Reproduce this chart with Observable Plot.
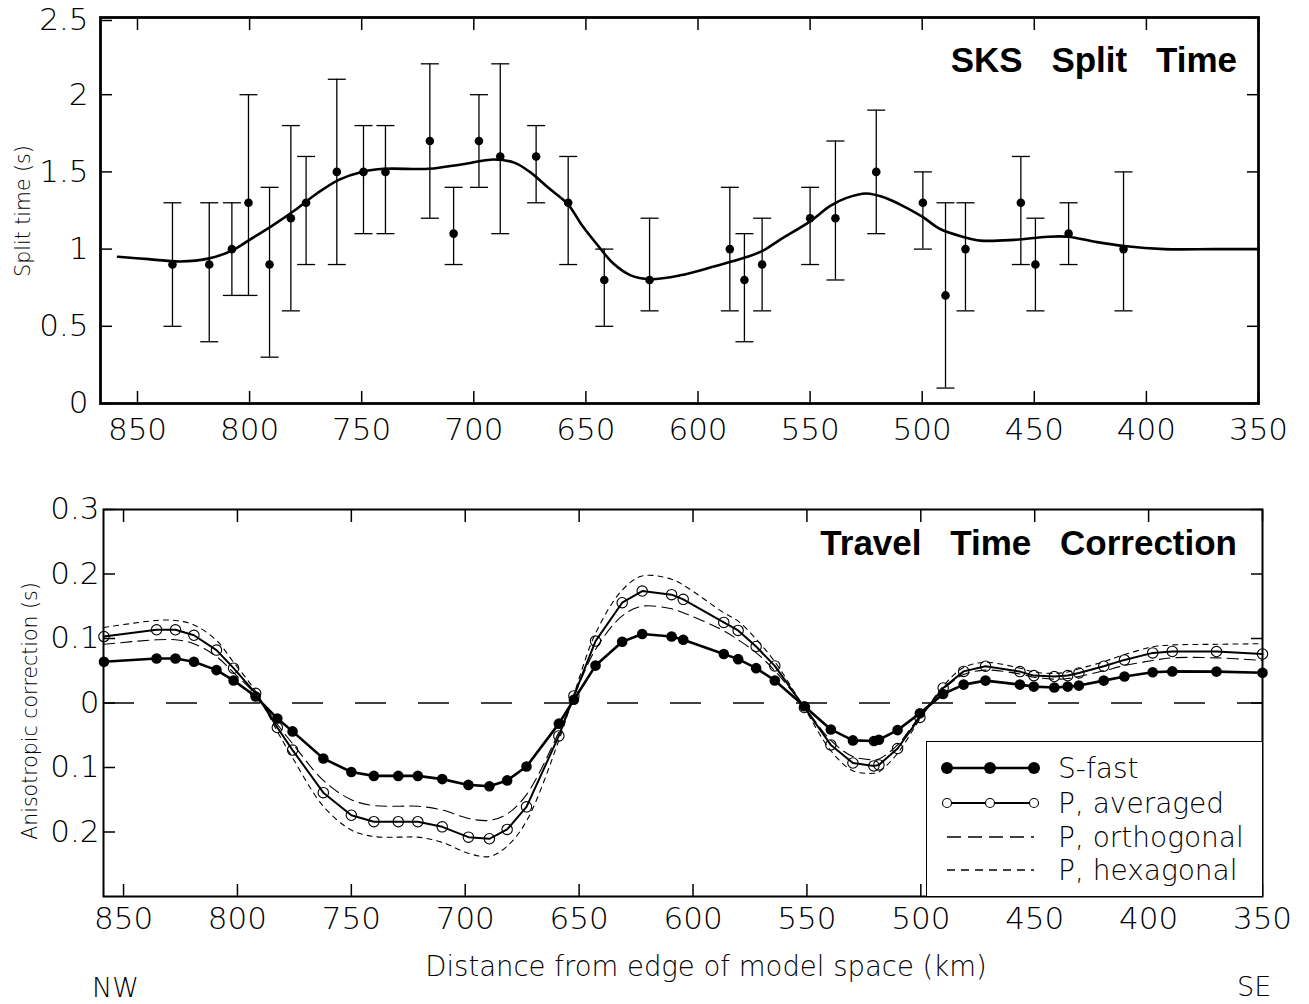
<!DOCTYPE html>
<html>
<head>
<meta charset="utf-8">
<script src="https://cdn.jsdelivr.net/npm/d3@7"></script>
<script src="https://cdn.jsdelivr.net/npm/@observablehq/plot@0.6"></script>
<style>
  html, body { margin: 0; padding: 0; background: #fff; }
  #wrap { position: relative; width: 1309px; height: 1004px; overflow: hidden; font-family: "DejaVu Sans", sans-serif; font-weight: 200; color: #000; }
  .abs { position: absolute; white-space: nowrap; line-height: 1; }
  .title { font-family: "Liberation Sans", Arial, sans-serif; font-weight: 700; font-size: 35px; word-spacing: 19px; }
  .xlab { font-size: 27.5px; }
  .ylab { font-size: 20.5px; transform: translate(-50%, -50%) rotate(-90deg); }
  .dir { font-size: 27px; }
  #legend { position: absolute; background: #fff; border: 1.5px solid #000; box-sizing: border-box; }
</style>
</head>
<body>
<div id="wrap"></div>
<script>
// ---------- SKS split time (top panel) ----------
const sksKm   = [834.4, 818, 807.9, 800.5, 791.1, 781.6, 774.8, 761.1, 749.2, 739.4, 719.6, 709, 697.7, 688.2, 672.2, 657.9, 641.8, 621.6, 585.8, 579.3, 571.4, 550, 538.7, 520.5, 499.7, 489.6, 480.7, 456, 449.5, 434.7, 410.2];
const sksTime = [0.9, 0.9, 1.0, 1.3, 0.9, 1.2, 1.3, 1.5, 1.5, 1.5, 1.7, 1.1, 1.7, 1.6, 1.6, 1.3, 0.8, 0.8, 1.0, 0.8, 0.9, 1.2, 1.2, 1.5, 1.3, 0.7, 1.0, 1.3, 0.9, 1.1, 1.0];
const sksLow  = [0.5, 0.4, 0.7, 0.7, 0.3, 0.6, 0.9, 0.9, 1.1, 1.1, 1.2, 0.9, 1.4, 1.1, 1.3, 0.9, 0.5, 0.6, 0.6, 0.4, 0.6, 0.9, 0.8, 1.1, 1.0, 0.1, 0.6, 0.9, 0.6, 0.9, 0.6];
const sksHigh = [1.3, 1.3, 1.3, 2.0, 1.4, 1.8, 1.6, 2.1, 1.8, 1.8, 2.2, 1.4, 2.0, 2.2, 1.8, 1.6, 1.0, 1.2, 1.4, 1.1, 1.2, 1.4, 1.7, 1.9, 1.5, 1.3, 1.3, 1.6, 1.2, 1.3, 1.5];

// smoothed split-time curve
const smoothKm  = [858.7, 845, 831, 818, 807.9, 800, 790, 780, 770, 760, 750, 740, 720, 705, 691, 682, 675, 667, 658, 652, 645, 638, 630, 621.6, 608, 593, 578, 571, 563.5, 550, 541, 534, 525, 516, 510, 500, 492, 482, 474, 459, 444, 435, 422, 410, 392, 370, 350];
const smoothVal = [0.95, 0.935, 0.92, 0.94, 0.99, 1.06, 1.15, 1.25, 1.36, 1.45, 1.50, 1.52, 1.52, 1.55, 1.58, 1.56, 1.50, 1.40, 1.29, 1.16, 1.03, 0.91, 0.83, 0.805, 0.83, 0.887, 0.95, 0.99, 1.06, 1.18, 1.28, 1.33, 1.36, 1.33, 1.29, 1.21, 1.13, 1.08, 1.055, 1.06, 1.08, 1.08, 1.045, 1.02, 1.0, 1.0, 1.0];

// ---------- Travel time correction (bottom panel) ----------
const corrKm = [858.6, 835.5, 827.2, 819.1, 809.2, 801.7, 792, 782.5, 775.8, 762.3, 750, 740.1, 729.4, 720.8, 710.1, 698.6, 689.4, 681.6, 673.1, 658.9, 652.3, 642.8, 631.1, 622.3, 609.4, 604.3, 586.5, 580.2, 572.3, 564.1, 551.1, 539.5, 529.8, 520.6, 518.4, 510.2, 500.4, 490.2, 481.2, 471.6, 456.5, 450.4, 441.4, 435.5, 430.6, 419.7, 410.6, 398.2, 389.6, 370.2, 350];
const sFast = [0.064, 0.069, 0.069, 0.064, 0.051, 0.035, 0.010, -0.024, -0.044, -0.086, -0.107, -0.113, -0.113, -0.113, -0.118, -0.127, -0.129, -0.120, -0.0985, -0.032, 0.005, 0.058, 0.095, 0.107, 0.103, 0.098, 0.076, 0.068, 0.054, 0.035, -0.005, -0.041, -0.058, -0.059, -0.057, -0.042, -0.016, 0.014, 0.0285, 0.0347, 0.0285, 0.0254, 0.024, 0.0254, 0.027, 0.0347, 0.041, 0.0476, 0.049, 0.0487, 0.047];
const pAveraged = [0.103, 0.1135, 0.1135, 0.105, 0.082, 0.054, 0.015, -0.038, -0.073, -0.139, -0.174, -0.184, -0.184, -0.184, -0.192, -0.208, -0.2105, -0.196, -0.161, -0.051, 0.011, 0.096, 0.1555, 0.1736, 0.168, 0.1607, 0.125, 0.1125, 0.0876, 0.0575, -0.007, -0.065, -0.093, -0.0975, -0.096, -0.0706, -0.0224, 0.0233, 0.049, 0.057, 0.0487, 0.0425, 0.041, 0.0425, 0.0466, 0.057, 0.0668, 0.0777, 0.080, 0.0798, 0.076];
const pOrthogonal = [0.091, 0.098, 0.098, 0.092, 0.072, 0.047, 0.013, -0.033, -0.063, -0.120, -0.150, -0.159, -0.160, -0.160, -0.166, -0.179, -0.182, -0.172, -0.142, -0.045, 0.010, 0.083, 0.135, 0.150, 0.146, 0.140, 0.112, 0.098, 0.078, 0.050, -0.006, -0.058, -0.083, -0.088, -0.087, -0.065, -0.020, 0.021, 0.044, 0.051, 0.045, 0.040, 0.037, 0.038, 0.041, 0.050, 0.058, 0.066, 0.070, 0.070, 0.066];
const pHexagonal = [0.117, 0.128, 0.128, 0.121, 0.097, 0.063, 0.018, -0.044, -0.085, -0.160, -0.197, -0.207, -0.208, -0.208, -0.216, -0.233, -0.238, -0.222, -0.183, -0.058, 0.013, 0.108, 0.175, 0.197, 0.192, 0.183, 0.140, 0.127, 0.099, 0.064, -0.008, -0.074, -0.105, -0.109, -0.107, -0.078, -0.025, 0.026, 0.055, 0.063, 0.054, 0.048, 0.046, 0.048, 0.053, 0.064, 0.075, 0.087, 0.090, 0.091, 0.092];

const xTicks = [850, 800, 750, 700, 650, 600, 550, 500, 450, 400, 350];
const yTicksTop = [0, 0.5, 1, 1.5, 2, 2.5];
const yTicksTopLower = [0, 0.5, 1, 1.5, 2];
const yTicksTopUpper = [2.5];
const yTicksBottom = [-0.2, -0.1, 0, 0.1, 0.2, 0.3];
const legendLabels = ["S-fast", "P, averaged", "P, orthogonal", "P, hexagonal"];

// tables
const sks = sksKm.map((km, i) => ({km, t: sksTime[i], lo: sksLow[i], hi: sksHigh[i]}));
const smooth = smoothKm.map((km, i) => ({km, v: smoothVal[i]}));
const corr = corrKm.map((km, i) => ({km, s: sFast[i], pa: pAveraged[i], po: pOrthogonal[i], ph: pHexagonal[i]}));

// horizontal cap symbol for error bars
const capSymbol = {
  draw(context, size) {
    const r = Math.sqrt(size / Math.PI);
    context.moveTo(-r, 0);
    context.lineTo(r, 0);
  }
};

const wrap = document.getElementById("wrap");
const fontStyle = {fontFamily: "'DejaVu Sans', sans-serif", fontWeight: 200, fontSize: "31px", color: "#000", background: "#fff", overflow: "visible"};

const topPlot = Plot.plot({
  width: 1309,
  height: 450,
  marginLeft: 100,
  marginRight: 51,
  marginTop: 17,
  marginBottom: 47,
  style: fontStyle,
  x: {domain: [866.5, 350], label: null},
  y: {domain: [0, 2.5], label: null},
  marks: [
    Plot.axisX({anchor: "bottom", ticks: xTicks, tickSize: -12, tickPadding: 26, strokeWidth: 1.5, tickFormat: d => String(d), label: null}),
    Plot.axisX({anchor: "top", ticks: xTicks, tickSize: -12, strokeWidth: 1.5, tickFormat: () => "", label: null}),
    Plot.axisY({anchor: "left", ticks: yTicksTopLower, tickSize: -12, tickPadding: 24, strokeWidth: 1.5, tickFormat: d => String(d), label: null}),
    Plot.axisY({anchor: "left", ticks: yTicksTopUpper, tickSize: -12, tickPadding: 24, strokeWidth: 1.5, dy: 3, tickFormat: d => String(d), label: null}),
    Plot.axisY({anchor: "right", ticks: yTicksTop, tickSize: -12, strokeWidth: 1.5, tickFormat: () => "", label: null}),
    Plot.ruleX(sks, {x: "km", y1: "lo", y2: "hi", stroke: "#000", strokeWidth: 1.3}),
    Plot.dot(sks, {x: "km", y: "lo", symbol: capSymbol, r: 9, stroke: "#000", strokeWidth: 1.3, fill: "none"}),
    Plot.dot(sks, {x: "km", y: "hi", symbol: capSymbol, r: 9, stroke: "#000", strokeWidth: 1.3, fill: "none"}),
    Plot.line(smooth, {x: "km", y: "v", curve: "catmull-rom", stroke: "#000", strokeWidth: 2.6}),
    Plot.dot(sks, {x: "km", y: "t", r: 4.3, fill: "#000", stroke: "none"}),
    Plot.frame({stroke: "#000", strokeWidth: 2.8})
  ]
});

const yFmt = d => d === 0 ? "0" : Math.abs(d).toFixed(1);

const bottomPlot = Plot.plot({
  width: 1309,
  height: 544,
  marginLeft: 103,
  marginRight: 47,
  marginTop: 49,
  marginBottom: 108,
  style: fontStyle,
  x: {domain: [858.8, 350], label: null},
  y: {domain: [-0.3, 0.3], label: null},
  marks: [
    Plot.axisX({anchor: "bottom", ticks: xTicks, tickSize: -12, tickPadding: 22, strokeWidth: 1.5, tickFormat: d => String(d), label: null}),
    Plot.axisX({anchor: "top", ticks: xTicks, tickSize: -12, strokeWidth: 1.5, tickFormat: () => "", label: null}),
    Plot.axisY({anchor: "left", ticks: yTicksBottom, tickSize: -12, tickPadding: 16, strokeWidth: 1.5, tickFormat: yFmt, label: null}),
    Plot.axisY({anchor: "right", ticks: yTicksBottom, tickSize: -12, strokeWidth: 1.5, tickFormat: () => "", label: null}),
    Plot.ruleY([0], {stroke: "#000", strokeWidth: 1.3, strokeDasharray: "31,32"}),
    Plot.line(corr, {x: "km", y: "ph", curve: "catmull-rom", stroke: "#000", strokeWidth: 1.1, strokeDasharray: "5,5"}),
    Plot.line(corr, {x: "km", y: "po", curve: "catmull-rom", stroke: "#000", strokeWidth: 1.1, strokeDasharray: "11,6"}),
    Plot.line(corr, {x: "km", y: "pa", stroke: "#000", strokeWidth: 2}),
    Plot.dot(corr, {x: "km", y: "pa", r: 5.2, fill: "none", stroke: "#000", strokeWidth: 1.1}),
    Plot.line(corr, {x: "km", y: "s", stroke: "#000", strokeWidth: 2.6}),
    Plot.dot(corr, {x: "km", y: "s", r: 5.3, fill: "#000", stroke: "none"}),
    Plot.frame({stroke: "#000", strokeWidth: 2})
  ]
});

function place(el, left, top) {
  el.style.position = "absolute";
  el.style.left = left + "px";
  el.style.top = top + "px";
  wrap.appendChild(el);
}
place(topPlot, 0, 0);
place(bottomPlot, 0, 460);

function addText(txt, cls, css) {
  const d = document.createElement("div");
  d.className = "abs " + cls;
  d.textContent = txt;
  Object.assign(d.style, css);
  wrap.appendChild(d);
  return d;
}

// titles (right aligned inside frames)
addText("SKS Split Time", "title", {right: (1309 - 1237) + "px", top: "42px"});
addText("Travel Time Correction", "title", {right: (1309 - 1237) + "px", top: "525px"});

// axis labels
addText("Split time (s)", "ylab", {left: "23px", top: "211px"});
addText("Anisotropic correction (s)", "ylab", {left: "30px", top: "711px"});
addText("Distance from edge of model space (km)", "xlab", {left: "706px", top: "967px", transform: "translate(-50%, -50%)"});
addText("NW", "dir", {left: "92px", top: "974px"});
addText("SE", "dir", {left: "1237px", top: "973px"});

// legend box
const legend = document.createElement("div");
legend.id = "legend";
Object.assign(legend.style, {left: "926px", top: "741px", width: "337px", height: "156px"});
const ns = "http://www.w3.org/2000/svg";
const lsvg = document.createElementNS(ns, "svg");
lsvg.setAttribute("width", 337);
lsvg.setAttribute("height", 156);
lsvg.style.overflow = "visible";
const rowY = [26, 61, 95, 128];
const styles = [
  {sw: 2.6, dash: null, marker: "filled"},
  {sw: 2, dash: null, marker: "open"},
  {sw: 1.3, dash: "14,7", marker: null},
  {sw: 1.3, dash: "8,6", marker: null}
];
legendLabels.forEach((label, i) => {
  const y = rowY[i];
  const st = styles[i];
  const ln = document.createElementNS(ns, "line");
  ln.setAttribute("x1", 20); ln.setAttribute("x2", 107);
  ln.setAttribute("y1", y); ln.setAttribute("y2", y);
  ln.setAttribute("stroke", "#000");
  ln.setAttribute("stroke-width", st.sw);
  if (st.dash) ln.setAttribute("stroke-dasharray", st.dash);
  lsvg.appendChild(ln);
  if (st.marker) {
    [20, 63, 107].forEach(cx => {
      const c = document.createElementNS(ns, "circle");
      c.setAttribute("cx", cx); c.setAttribute("cy", y);
      if (st.marker === "filled") { c.setAttribute("r", 6); c.setAttribute("fill", "#000"); }
      else { c.setAttribute("r", 4.5); c.setAttribute("fill", "#fff"); c.setAttribute("stroke", "#000"); c.setAttribute("stroke-width", 1.1); }
      lsvg.appendChild(c);
    });
  }
  const t = document.createElementNS(ns, "text");
  t.setAttribute("x", 131);
  t.setAttribute("y", y);
  t.setAttribute("dy", "0.36em");
  t.setAttribute("font-size", "28px");
  t.setAttribute("font-family", "'DejaVu Sans', sans-serif");
  t.setAttribute("font-weight", "200");
  t.textContent = label;
  lsvg.appendChild(t);
});
legend.appendChild(lsvg);
wrap.appendChild(legend);
</script>
</body>
</html>
